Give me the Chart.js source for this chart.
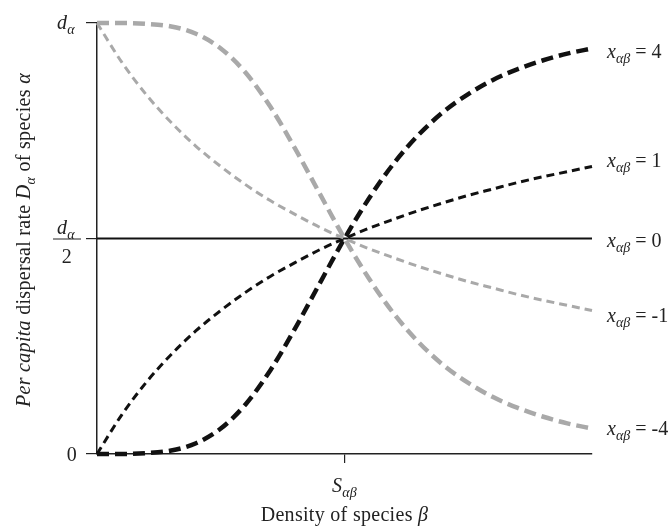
<!DOCTYPE html>
<html>
<head>
<meta charset="utf-8">
<script src="https://cdn.jsdelivr.net/npm/chart.js@4/dist/chart.umd.min.js"></script>
<style>
html,body{margin:0;padding:0;background:#fff;}
canvas{display:block;}
</style>
</head>
<body>
<canvas id="c" width="670" height="530"></canvas>
<script>
// Density of species beta, in units of S_ab (S_ab at 1)
const density = [0,0.1,0.2,0.3,0.4,0.5,0.6,0.7,0.8,0.9,1.0,1.1,1.2,1.3,1.4,1.5,1.6,1.7,1.8,1.9,2.0];
// Per capita dispersal rate, in units of d_alpha
const dispX4  = [0,0,0.002,0.008,0.025,0.059,0.115,0.194,0.291,0.396,0.500,0.594,0.675,0.741,0.794,0.835,0.868,0.893,0.913,0.929,0.941];
const dispX1  = [0,0.091,0.167,0.231,0.286,0.333,0.375,0.412,0.444,0.474,0.500,0.524,0.545,0.565,0.583,0.600,0.615,0.630,0.643,0.655,0.667];
const dispX0  = [0.5,0.5,0.5,0.5,0.5,0.5,0.5,0.5,0.5,0.5,0.5,0.5,0.5,0.5,0.5,0.5,0.5,0.5,0.5,0.5,0.5];
const dispXm1 = [1,0.909,0.833,0.769,0.714,0.667,0.625,0.588,0.556,0.526,0.500,0.476,0.455,0.435,0.417,0.400,0.385,0.370,0.357,0.345,0.333];
const dispXm4 = [1,1,0.998,0.992,0.975,0.941,0.885,0.806,0.709,0.604,0.500,0.406,0.325,0.259,0.206,0.165,0.132,0.107,0.087,0.071,0.059];
const seriesNames = ['4','1','0','-1','-4'];
const yTickValues = [0, 0.5, 1];
const xTickValues = [1];

const pts = arr => arr.map((v,i)=>({x:density[i], y:v}));
const BLACK = '#111111', GRAY = '#a9a9a9';
const SERIF = '"Liberation Serif", "DejaVu Serif", serif';

function richText(ctx, x, y, segs, align, spacing) {
  const fontFor = s => (s.it ? 'italic ' : '') + (s.sub ? '14px ' : '20px ') + SERIF;
  ctx.letterSpacing = (spacing === undefined ? 0.3 : spacing) + 'px';
  let w = 0;
  segs.forEach(s => { ctx.font = fontFor(s); w += ctx.measureText(s.t).width; });
  let cx = align === 'center' ? x - w/2 : (align === 'right' ? x - w : x);
  ctx.textBaseline = 'alphabetic';
  ctx.textAlign = 'left';
  segs.forEach(s => {
    ctx.font = fontFor(s);
    ctx.fillText(s.t, cx, y + (s.sub ? 5 : 0));
    cx += ctx.measureText(s.t).width;
  });
  return w;
}

const labelPlugin = {
  id: 'labels',
  afterDraw(chart) {
    const ctx = chart.ctx;
    const xs = chart.scales.x, ys = chart.scales.y;
    ctx.save();
    ctx.fillStyle = '#222';
    // y tick labels
    const yTop = ys.getPixelForValue(yTickValues[2]);
    richText(ctx, 66, yTop + 6, [{t:'d', it:true},{t:'α', it:true, sub:true}], 'center');
    const yMid = ys.getPixelForValue(yTickValues[1]);
    richText(ctx, 66, yMid - 5, [{t:'d', it:true},{t:'α', it:true, sub:true}], 'center');
    ctx.strokeStyle = '#222'; ctx.lineWidth = 1;
    ctx.beginPath(); ctx.moveTo(53, yMid + 0.5); ctx.lineTo(81, yMid + 0.5); ctx.stroke();
    richText(ctx, 67, yMid + 24, [{t:'2'}], 'center');
    const yZero = ys.getPixelForValue(yTickValues[0]);
    richText(ctx, 72, yZero + 7, [{t:'0'}], 'center');
    // x tick label
    const xS = xs.getPixelForValue(xTickValues[0]);
    richText(ctx, xS, 492, [{t:'S', it:true},{t:'αβ', it:true, sub:true}], 'center');
    // x axis title
    richText(ctx, xS, 521, [{t:'Density of species '},{t:'β', it:true}], 'center');
    // y axis title
    ctx.save();
    ctx.translate(30, 240);
    ctx.rotate(-Math.PI/2);
    richText(ctx, 0, 0, [{t:'Per capita', it:true},{t:' dispersal rate '},{t:'D', it:true},{t:'α', it:true, sub:true},{t:' of species '},{t:'α', it:true}], 'center');
    ctx.restore();
    // series labels on the right
    const offsets = [10, 0, 8, 12, 6];
    chart.data.datasets.forEach((ds, i) => {
      const last = ds.data[ds.data.length - 1].y;
      const py = ys.getPixelForValue(last) + offsets[i];
      richText(ctx, 607, py, [{t:'x', it:true},{t:'αβ', it:true, sub:true},{t:' = ' + seriesNames[i]}], 'left', 0);
    });
    ctx.restore();
  }
};

new Chart(document.getElementById('c'), {
  type: 'line',
  data: {
    datasets: [
      {label:'x=4', data:pts(dispX4), borderColor:BLACK, borderWidth:4.5, borderDash:[12,6], order:2},
      {label:'x=1', data:pts(dispX1), borderColor:BLACK, borderWidth:3, borderDash:[8,5], order:2},
      {label:'x=0', data:pts(dispX0), borderColor:BLACK, borderWidth:2, borderDash:[], order:3},
      {label:'x=-1', data:pts(dispXm1), borderColor:GRAY, borderWidth:3, borderDash:[8,5], order:1},
      {label:'x=-4', data:pts(dispXm4), borderColor:GRAY, borderWidth:4.5, borderDash:[12,6], order:1}
    ]
  },
  options: {
    responsive: false,
    animation: false,
    layout: { padding: { left: 0, right: 78, top: 23, bottom: 0 } },
    elements: { point: { radius: 0 }, line: { cubicInterpolationMode: 'monotone', fill: false } },
    datasets: { line: { clip: 6 } },
    plugins: { legend: { display: false }, tooltip: { enabled: false } },
    scales: {
      x: {
        type: 'linear', min: 0, max: 2,
        afterBuildTicks: s => { s.ticks = xTickValues.map(v => ({value: v})); },
        afterFit: s => { s.height = 76; },
        ticks: { callback: () => '', padding: 0 },
        grid: { drawOnChartArea: false, drawTicks: true, tickLength: 9, color: '#222', lineWidth: 1.2 },
        border: { display: true, color: '#222', width: 1.5 }
      },
      y: {
        type: 'linear', min: 0, max: 1,
        afterBuildTicks: s => { s.ticks = yTickValues.map(v => ({value: v})); },
        afterFit: s => { s.width = 97; },
        ticks: { callback: () => '', padding: 0 },
        grid: { drawOnChartArea: false, drawTicks: true, tickLength: 11, color: '#222', lineWidth: 1.2 },
        border: { display: true, color: '#222', width: 1.5 }
      }
    }
  },
  plugins: [labelPlugin]
});
</script>
</body>
</html>
